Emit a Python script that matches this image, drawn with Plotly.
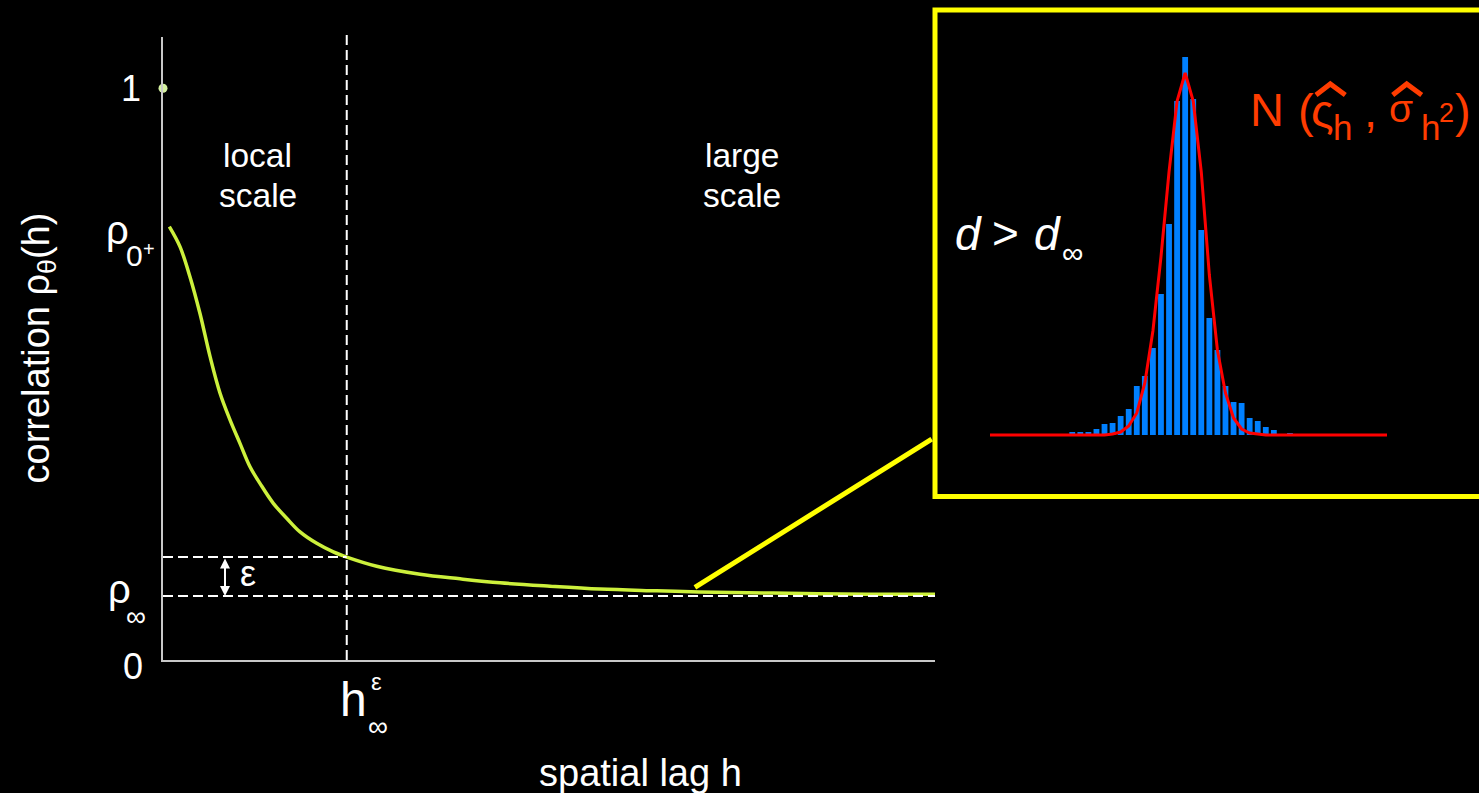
import plotly.graph_objects as go

# ---- correlation curve rho_theta(h) along the spatial lag axis ----
lag_h = [0.082, 0.220, 0.350, 0.479, 0.609, 0.738, 0.868, 0.997, 1.127, 1.256,
         1.429, 1.602, 1.775, 1.991, 2.206, 2.380, 2.768, 3.329, 3.847, 4.365,
         5.013, 5.661, 6.395, 6.943, 7.902, 9.115, 10.0]
corr = [0.758, 0.723, 0.670, 0.606, 0.531, 0.467, 0.420, 0.379, 0.338, 0.309,
        0.274, 0.248, 0.224, 0.204, 0.189, 0.180, 0.164, 0.150, 0.142, 0.135,
        0.129, 0.124, 0.121, 0.119, 0.117, 0.115, 0.115]

rho_zero = 1.0          # value at h = 0
rho_0plus = 0.758       # limit at h -> 0+
rho_inf = 0.112         # long-range plateau
eps = 0.068             # tolerance band above the plateau
h_eps = 2.38            # lag where the curve enters the band
h_max = 10.0
arrow_h = 0.803         # where the epsilon arrow is drawn
zoom_h, zoom_rho = 6.89, 0.127   # point magnified in the inset

# ---- inset: distribution of d at large lags ----
bins = list(range(-14, 14))
counts = [3, 3, 3, 6, 11, 12, 19, 26, 49, 59, 87, 141, 211, 334, 378,
          336, 205, 117, 85, 49, 33, 32, 17, 14, 8, 5, 0, 2]
fit_x = [-24.2, -10, -9, -8, -7, -6, -5, -4, -3, -2, -1, 0, 1, 2, 3, 4, 5,
         6, 7, 8, 9, 10, 25.03]
fit_y = [0, 0, 1, 3, 9, 22, 52, 104, 178, 263, 334, 362, 334, 263, 160, 85,
         42, 17, 6, 2, 1, 0, 0]

W, H = 1479, 793
FONT = "Liberation Sans, Arial, sans-serif"
WHITE = "#ffffff"
ORANGE = "#ff3c00"
CURVE = "#ccf03c"


def px(x):
    return x / W


def py(y):
    return 1 - y / H


fig = go.Figure()

fig.add_trace(go.Scatter(x=lag_h, y=corr, mode="lines",
                         line=dict(color=CURVE, width=3.5, shape="spline"),
                         hoverinfo="skip"))
fig.add_trace(go.Scatter(x=[0], y=[rho_zero], mode="markers",
                         marker=dict(color="#d4f0a0", size=9),
                         cliponaxis=False, hoverinfo="skip"))

fig.add_trace(go.Bar(x=bins, y=counts, width=0.72,
                     marker=dict(color="#0080ff", line=dict(width=0)),
                     xaxis="x2", yaxis="y2", hoverinfo="skip"))
fig.add_trace(go.Scatter(x=fit_x, y=fit_y, mode="lines",
                         line=dict(color="#ff0000", width=3),
                         xaxis="x2", yaxis="y2", hoverinfo="skip"))

dash = dict(color=WHITE, width=2, dash="10px,5px")
shapes = [
    dict(type="line", xref="x", yref="paper", x0=h_eps, x1=h_eps,
         y0=py(660), y1=py(33.3), line=dash),
    dict(type="line", xref="x", yref="y", x0=0, x1=h_eps,
         y0=rho_inf + eps, y1=rho_inf + eps, line=dash),
    dict(type="line", xref="x", yref="y", x0=0, x1=h_max,
         y0=rho_inf, y1=rho_inf, line=dash),
    dict(type="rect", xref="paper", yref="paper", x0=px(935), x1=px(1500),
         y0=py(496.5), y1=py(10), line=dict(color="#ffff00", width=5)),
]
# circumflex hats over the estimated parameters
for x0, xa, x1 in [(1316, 1330.3, 1345.3), (1392.7, 1406.7, 1421.7)]:
    shapes.append(dict(
        type="path", xref="paper", yref="paper",
        path=f"M {px(x0)} {py(95)} L {px(xa)} {py(84)} L {px(x1)} {py(95)}",
        line=dict(color=ORANGE, width=5)))


def label(text, x, y, size, color=WHITE, xref="paper", yref="paper", **kw):
    d = dict(text=text, x=x, y=y, xref=xref, yref=yref, showarrow=False,
             xanchor="center", yanchor="middle",
             font=dict(family=FONT, size=size, color=color))
    d.update(kw)
    return d


ann = [
    # value labels on the correlation axis
    label("1", px(131), rho_zero, 36, yref="y"),
    label("0", px(132.5), 0, 36, yref="y", yshift=-6.5),
    label("ρ", px(117.5), rho_0plus, 40, yref="y", yshift=-3.2),
    label("0", px(134.5), rho_0plus, 30, yref="y", yshift=-29.3),
    label("+", px(149), rho_0plus, 20, yref="y", yshift=-22.3),
    label("ρ", px(119.5), rho_inf, 40, yref="y", yshift=6.9),
    label("∞", px(136), rho_inf, 28, yref="y", yshift=-20.5),
    # lag label under the dashed line
    label("h", h_eps, py(699.2), 48, xref="x", xshift=6.6),
    label("ε", h_eps, py(681.9), 24, xref="x", xshift=29.6),
    label("∞", h_eps, py(726.5), 28, xref="x", xshift=31.3),
    # epsilon band
    label("ε", px(247.5), py(573.2), 36),
    dict(x=arrow_h, y=rho_inf, ax=arrow_h, ay=rho_inf + eps, xref="x",
         yref="y", axref="x", ayref="y", text="", showarrow=True,
         arrowside="end+start", arrowhead=2, arrowsize=1, arrowwidth=2,
         arrowcolor=WHITE, standoff=0, startstandoff=0),
    # region captions
    label("local", px(257.5), py(155.7), 33.5),
    label("scale", px(257.5), py(195.1), 33.5),
    label("large", px(742), py(155.7), 33.5),
    label("scale", px(742.5), py(195.1), 33.5),
    # axis titles
    label("spatial lag h", px(640), py(773), 38),
    label("correlation ρ<sub>θ</sub>(h)", px(38), py(348.5), 38,
          textangle=-90),
    # connector from the curve to the inset
    dict(x=zoom_h, y=zoom_rho, xref="x", yref="y", ax=238.3, ay=-149.3,
         text="", showarrow=True, arrowhead=0, arrowwidth=5,
         arrowcolor="#ffff00", standoff=0, startstandoff=0),
    # inset captions
    label("<i>d</i>", px(968.3), py(234), 46),
    label(">", px(1005.5), py(233.3), 46),
    label("<i>d</i>", px(1047.3), py(234), 46),
    label("∞", px(1072.5), py(252.7), 30),
    label("N", px(1267.2), py(109.5), 47, ORANGE),
    label("(", px(1306), py(110.4), 47, ORANGE),
    label("ς", px(1322.5), py(110.4), 47, ORANGE),
    label("h", px(1342), py(127.9), 35, ORANGE),
    label(",", px(1370.5), py(110.4), 47, ORANGE),
    label("σ", px(1400.8), py(108.2), 39, ORANGE),
    label("h", px(1430.5), py(127.9), 35, ORANGE),
    label("2", px(1446.5), py(112.6), 27, ORANGE),
    label(")", px(1463.3), py(110.4), 47, ORANGE),
]

axis_main = dict(showgrid=False, zeroline=False, showticklabels=False,
                 ticks="", showline=True, linecolor="#c8c8c8", linewidth=1.5,
                 fixedrange=True)
hidden = dict(visible=False, showgrid=False, zeroline=False, fixedrange=True)

fig.update_layout(
    width=W, height=H, autosize=False,
    margin=dict(l=0, r=0, t=0, b=0),
    paper_bgcolor="#000000", plot_bgcolor="#000000",
    showlegend=False,
    font=dict(family=FONT, color=WHITE),
    xaxis=dict(domain=[px(163), px(935)], range=[0, h_max], anchor="y",
               **axis_main),
    yaxis=dict(domain=[py(660), py(36.7)], range=[0, (660 - 36.7) / 571.7],
               anchor="x", **axis_main),
    xaxis2=dict(domain=[px(990), px(1387)], range=[-24.2, 25.03],
                anchor="y2", **hidden),
    yaxis2=dict(domain=[py(445), py(35)], range=[-10, 400], anchor="x2",
                **hidden),
    shapes=shapes,
    annotations=ann,
)

fig.write_html("out.html")
